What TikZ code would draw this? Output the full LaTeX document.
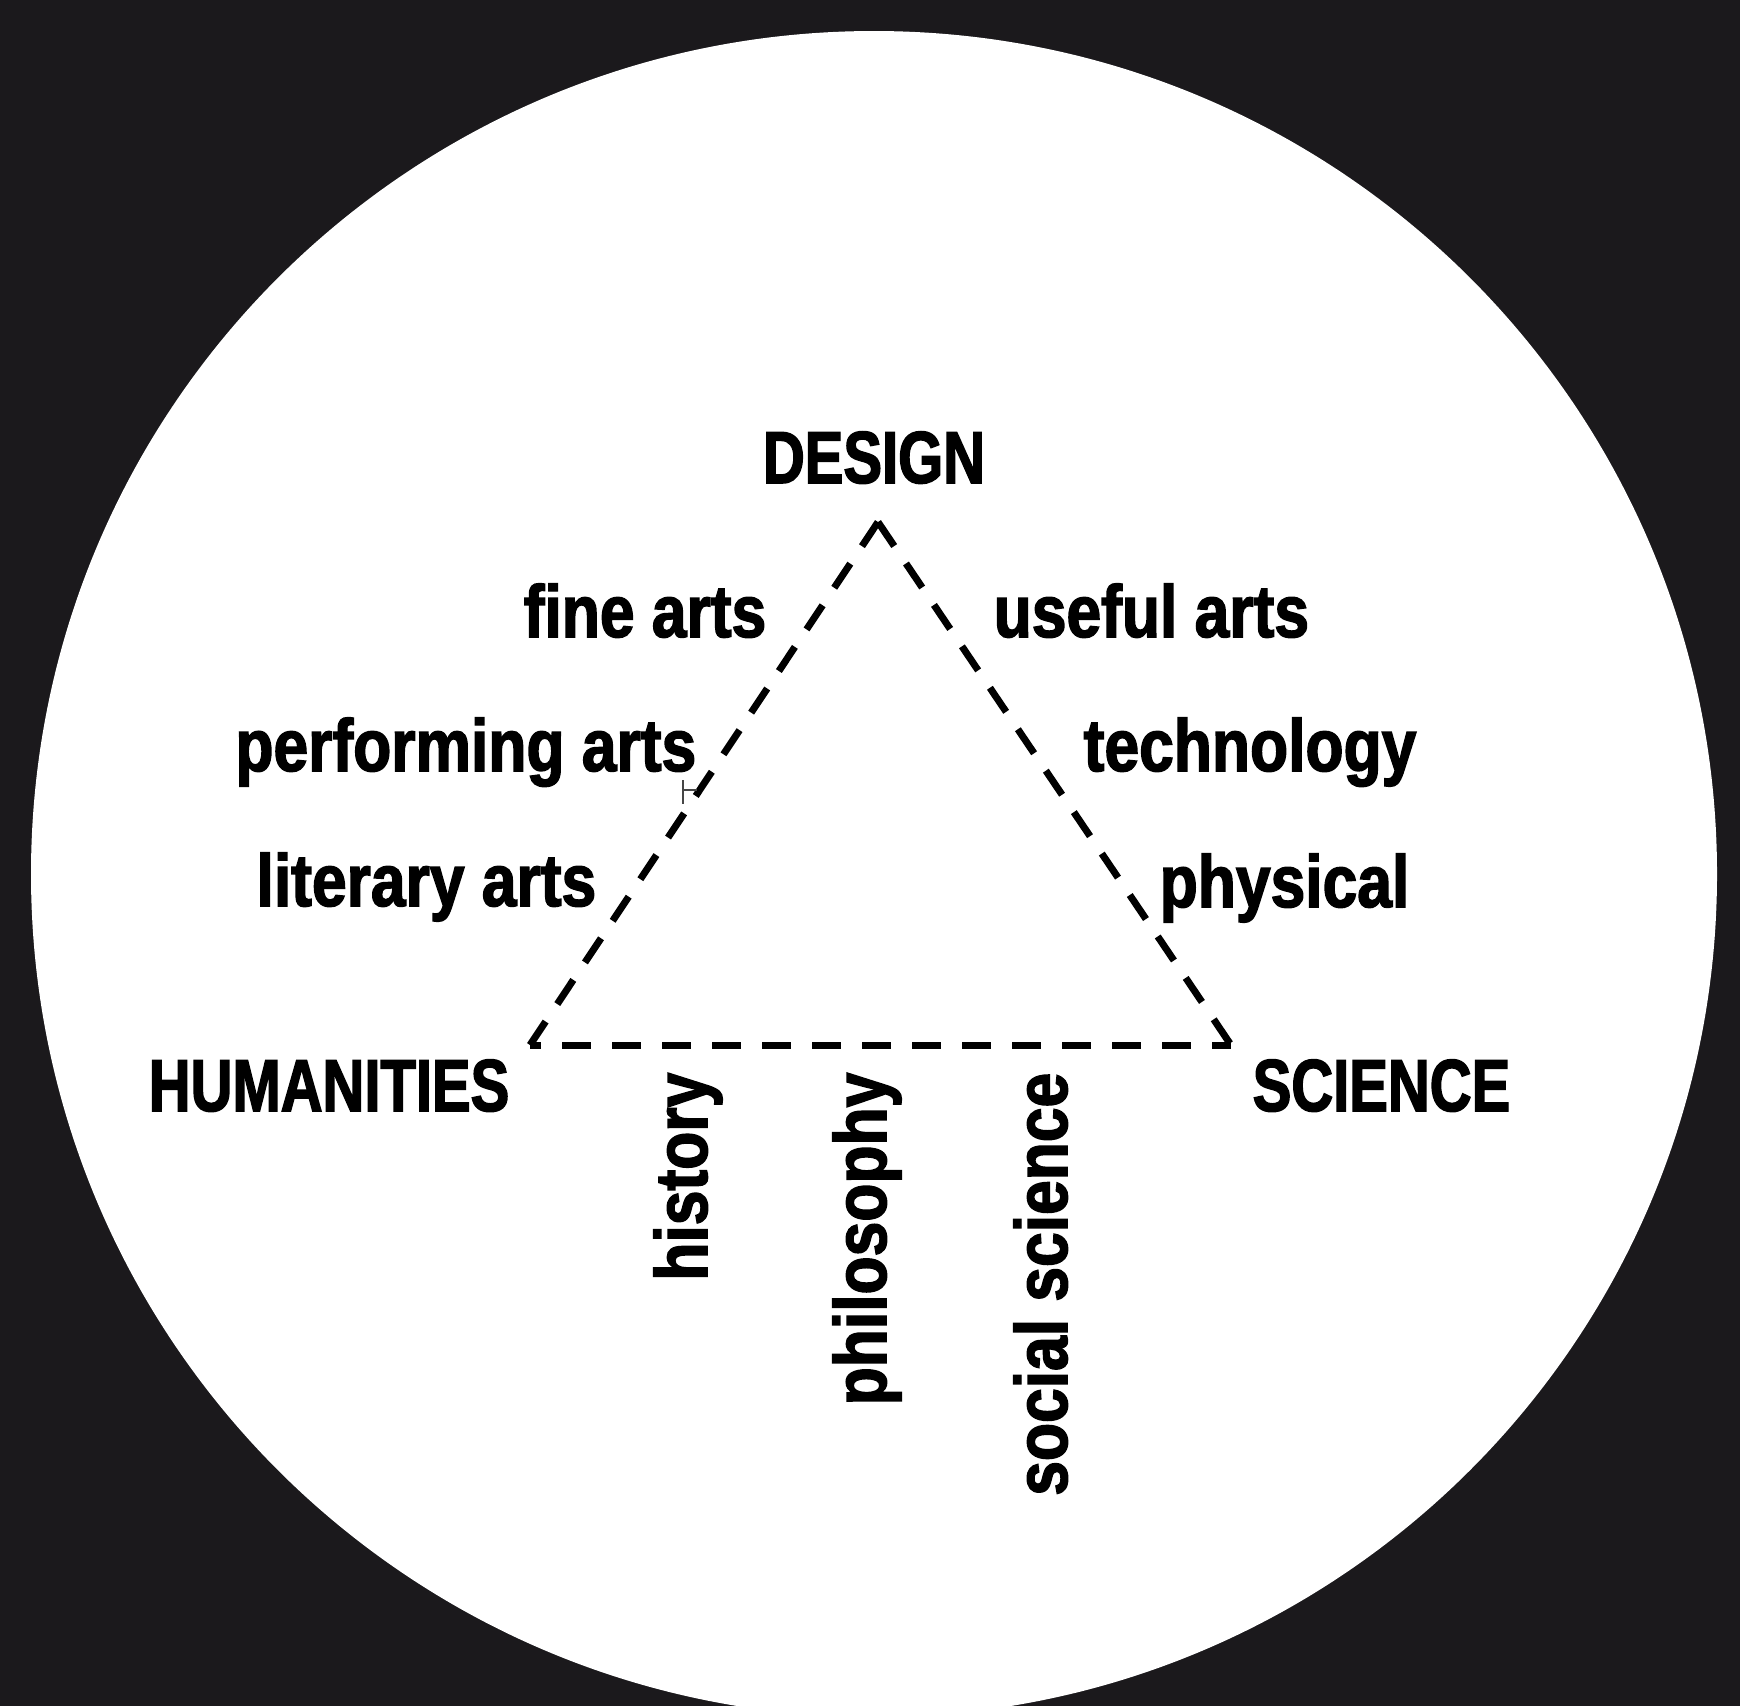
\documentclass[tikz,border=0pt]{standalone}
\usepackage{fontspec}
\newfontfamily\diagfont{Liberation Sans Bold}[FakeStretch=0.845, FakeBold=2]
\newfontfamily\diagcaps{Liberation Sans Bold}[FakeStretch=0.785, FakeBold=2]
\usepackage{xcolor}
\usepackage{tikz}
\definecolor{bgdark}{RGB}{27,25,28}
\definecolor{cursorgray}{RGB}{70,70,70}
\tikzset{
	lbl/.style={font=\diagfont\fontsize{21}{25}\selectfont, inner sep=0pt},
	corner/.style={font=\diagcaps\fontsize{21}{25}\selectfont, inner sep=0pt},
	side/.style={line width=0.7mm, dash pattern=on 2.9mm off 2.1mm}
}
\begin{document}
\begin{tikzpicture}[x=0.1mm, y=-0.1mm]
	\clip (0,0) rectangle (1740,1706);
	\fill[bgdark] (0,0) rectangle (1740,1706);
	\fill[white] (874,874) circle (843);
	
	\coordinate (D) at (878,522);
	\coordinate (H) at (530,1045);
	\coordinate (S) at (1231,1045);
	
	\draw[side] (D) -- (H);
	\draw[side] (D) -- (S);
	\draw[side, dash phase=1.8mm] (H) -- (S);
	
	\node[corner, anchor=base] (design) at (874,483) {DESIGN};
	\node[corner, anchor=base east] (hum) at (510,1111) {HUMANITIES};
	\node[corner, anchor=base west] (sci) at (1252,1111) {SCIENCE};
	
	\node[lbl, anchor=base east] (fine) at (767,637) {fine arts};
	\node[lbl, anchor=base east] (perf) at (697,771) {performing arts};
	\node[lbl, anchor=base east] (lit) at (597,906) {literary arts};
	
	\node[lbl, anchor=base west] (useful) at (993,637) {useful arts};
	\node[lbl, anchor=base west] (tech) at (1083,771) {technology};
	\node[lbl, anchor=base west] (phys) at (1159,907) {physical};
	
	\node[lbl, anchor=base east, rotate=90] (hist) at (707,1072) {history};
	\node[lbl, anchor=base east, rotate=90] (phil) at (886,1072) {philosophy};
	\node[lbl, anchor=base east, rotate=90] (soc) at (1067,1072) {social science};
	
	% cursor mark
	\draw[cursorgray, line width=0.15mm] (683,780) -- (683,804) (683,790) -- (697,790);
\end{tikzpicture}
\end{document}
